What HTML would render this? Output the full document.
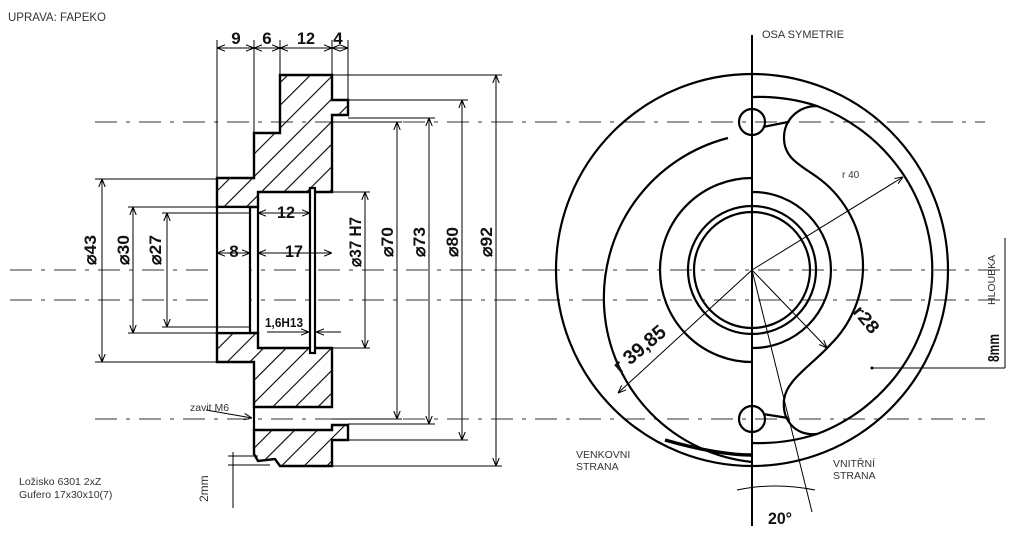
<!DOCTYPE html>
<html><head><meta charset="utf-8"><style>
html,body{margin:0;padding:0;background:#fff;width:1024px;height:534px;overflow:hidden}
svg{display:block}
text{font-family:"Liberation Sans",sans-serif}
.c{font-family:"Liberation Sans",sans-serif;font-weight:bold}
</style></head><body>
<svg width="1024" height="534" viewBox="0 0 1024 534" xmlns="http://www.w3.org/2000/svg">
<defs>
<pattern id="h" patternUnits="userSpaceOnUse" width="16" height="16" patternTransform="rotate(45)">
<line x1="0" y1="0" x2="0" y2="16" stroke="#000" stroke-width="2.2"/>
</pattern>
<marker id="a" viewBox="0 0 10 10" refX="10" refY="5" markerWidth="8" markerHeight="8" orient="auto-start-reverse" markerUnits="userSpaceOnUse"><path d="M0,1 L10,5 L0,9" fill="none" stroke="#000" stroke-width="1.3"/></marker>
</defs>
<g stroke="#333" stroke-width="1.1" stroke-dasharray="22,9,4,9" fill="none">
<line x1="95" y1="122" x2="985" y2="122"/>
<line x1="10" y1="270" x2="1000" y2="270"/>
<line x1="10" y1="300" x2="1000" y2="300"/>
<line x1="95" y1="419" x2="985" y2="419"/>
</g>
<text x="8" y="21" font-size="11.5" fill="#333">UPRAVA: FAPEKO</text>

<g stroke="#000" stroke-width="2.4" fill="url(#h)" stroke-linejoin="miter">
<path d="M280,75 L332,75 L332,100 L348,100 L348,115 L332,115 L332,192 L258,192 L258,207 L217,207 L217,178 L254,178 L254,133 L280,133 Z"/>
<path d="M217,333 L258,333 L258,348 L332,348 L332,407 L254,407 L254,362 L217,362 Z"/>
<path d="M254,430 L332,430 L332,425 L348,425 L348,440 L332,440 L332,466 L280,466 L275,459 L258,461 L254,454 Z"/>
</g>
<g stroke="#000" stroke-width="2.2" fill="#fff">
<rect x="217" y="207" width="33" height="126"/>
<rect x="310" y="188" width="5" height="165"/>
</g>
<g stroke="#000" stroke-width="2.2" fill="none">
<line x1="254" y1="407" x2="254" y2="430"/>
<line x1="258" y1="207" x2="258" y2="333"/>
</g>
<g stroke="#000" stroke-width="1" fill="none">
<line x1="217" y1="40" x2="217" y2="178"/>
<line x1="254" y1="40" x2="254" y2="133"/>
<line x1="280" y1="40" x2="280" y2="75"/>
<line x1="332" y1="40" x2="332" y2="75"/>
<line x1="348" y1="40" x2="348" y2="100"/>
<line x1="217" y1="48" x2="254" y2="48" marker-start="url(#a)" marker-end="url(#a)"/>
<line x1="254" y1="48" x2="280" y2="48" marker-start="url(#a)" marker-end="url(#a)"/>
<line x1="280" y1="48" x2="332" y2="48" marker-start="url(#a)" marker-end="url(#a)"/>
<line x1="332" y1="48" x2="348" y2="48" marker-start="url(#a)" marker-end="url(#a)"/>
<line x1="95" y1="179" x2="217" y2="179"/><line x1="95" y1="362" x2="217" y2="362"/>
<line x1="128" y1="207" x2="217" y2="207"/><line x1="128" y1="333" x2="217" y2="333"/>
<line x1="162" y1="213" x2="250" y2="213"/><line x1="162" y1="327" x2="250" y2="327"/>
<line x1="102" y1="179" x2="102" y2="362" marker-start="url(#a)" marker-end="url(#a)"/>
<line x1="133" y1="207" x2="133" y2="333" marker-start="url(#a)" marker-end="url(#a)"/>
<line x1="167" y1="213" x2="167" y2="327" marker-start="url(#a)" marker-end="url(#a)"/>
<line x1="258" y1="213" x2="310" y2="213" marker-start="url(#a)" marker-end="url(#a)"/>
<line x1="217" y1="253" x2="250" y2="253" marker-start="url(#a)" marker-end="url(#a)"/>
<line x1="258" y1="253" x2="332" y2="253" marker-start="url(#a)" marker-end="url(#a)"/>
<line x1="267" y1="332" x2="309" y2="332" marker-end="url(#a)"/>
<line x1="341" y1="332" x2="316" y2="332" marker-end="url(#a)"/>
<line x1="315" y1="192" x2="370" y2="192"/><line x1="315" y1="348" x2="370" y2="348"/>
<line x1="332" y1="122" x2="402" y2="122"/><line x1="332" y1="419" x2="402" y2="419"/>
<line x1="348" y1="118" x2="435" y2="118"/><line x1="348" y1="424" x2="435" y2="424"/>
<line x1="348" y1="100" x2="468" y2="100"/><line x1="348" y1="440" x2="468" y2="440"/>
<line x1="332" y1="75" x2="502" y2="75"/><line x1="332" y1="466" x2="502" y2="466"/>
<line x1="365" y1="192" x2="365" y2="348" marker-start="url(#a)" marker-end="url(#a)"/>
<line x1="397" y1="122" x2="397" y2="419" marker-start="url(#a)" marker-end="url(#a)"/>
<line x1="429" y1="118" x2="429" y2="424" marker-start="url(#a)" marker-end="url(#a)"/>
<line x1="462" y1="100" x2="462" y2="440" marker-start="url(#a)" marker-end="url(#a)"/>
<line x1="496" y1="75" x2="496" y2="466" marker-start="url(#a)" marker-end="url(#a)"/>
<line x1="206" y1="410" x2="252" y2="418" marker-end="url(#a)"/>
<line x1="233" y1="452" x2="233" y2="508"/>
<line x1="228" y1="456" x2="258" y2="456"/><line x1="228" y1="465" x2="270" y2="465"/>
</g>
<g class="c" font-size="17" fill="#111" text-anchor="middle">
<text x="236" y="44">9</text><text x="267" y="44">6</text><text x="306" y="44" textLength="18" lengthAdjust="spacingAndGlyphs">12</text><text x="338" y="44">4</text>
<text x="286" y="218" textLength="18" lengthAdjust="spacingAndGlyphs">12</text><text x="234" y="257">8</text><text x="294" y="257" textLength="18" lengthAdjust="spacingAndGlyphs">17</text>
<text x="284" y="327" font-size="13" textLength="38" lengthAdjust="spacingAndGlyphs">1,6H13</text>
<text transform="translate(96,250) rotate(-90)" textLength="30" lengthAdjust="spacingAndGlyphs">⌀43</text>
<text transform="translate(129,250) rotate(-90)" textLength="30" lengthAdjust="spacingAndGlyphs">⌀30</text>
<text transform="translate(161,250) rotate(-90)" textLength="30" lengthAdjust="spacingAndGlyphs">⌀27</text>
<text transform="translate(361,242) rotate(-90)" textLength="50" lengthAdjust="spacingAndGlyphs">⌀37 H7</text>
<text transform="translate(393,242) rotate(-90)" textLength="30" lengthAdjust="spacingAndGlyphs">⌀70</text>
<text transform="translate(425,242) rotate(-90)" textLength="30" lengthAdjust="spacingAndGlyphs">⌀73</text>
<text transform="translate(458,242) rotate(-90)" textLength="30" lengthAdjust="spacingAndGlyphs">⌀80</text>
<text transform="translate(492,242) rotate(-90)" textLength="30" lengthAdjust="spacingAndGlyphs">⌀92</text>
</g>
<text x="190" y="411" font-size="10.5" fill="#333">zavit M6</text>
<text transform="translate(208,502) rotate(-90)" font-size="12" fill="#333">2mm</text>
<text x="19" y="485" font-size="10.5" fill="#333">Ložisko 6301 2xZ</text>
<text x="19" y="498" font-size="10.5" fill="#333">Gufero  17x30x10(7)</text>

<g stroke="#000" stroke-width="2.2" fill="none">
<circle cx="752" cy="270" r="196"/>
<circle cx="752" cy="270" r="64"/>
<circle cx="752" cy="270" r="58"/>
<path d="M728,138 A165,165 0 0 0 752,462"/>
<path d="M752,178 A92,92 0 0 0 752,362"/>
<path d="M753,192 A78,78 0 0 1 753,348"/>
<path d="M753,97 A181,174 0 0 1 817,106"/>
<path d="M817,434 A181,174 0 0 1 753,443"/>
<circle cx="752" cy="122" r="13"/>
<circle cx="752" cy="419" r="13"/>
<path d="M763,127 L788,122"/><path d="M763,414 L788,418"/>
<path d="M817,106 A181,176 0 0 1 817,434 C795,436 782,420 784,400 C786,380 812,365 830,345 A110,110 0 0 0 817,177 C800,165 784,158 784,138 C784,118 800,106 817,106 Z"/>
<path d="M665,440 C700,450 730,455 752,455" stroke-width="3.5"/>
</g>
<line x1="752" y1="35" x2="752" y2="526" stroke="#000" stroke-width="2"/>
<g stroke="#000" stroke-width="1" fill="none">
<line x1="752" y1="270" x2="903" y2="177" marker-end="url(#a)"/>
<line x1="752" y1="270" x2="827" y2="348" marker-end="url(#a)"/>
<line x1="752" y1="270" x2="618" y2="393" marker-end="url(#a)"/>
<line x1="752" y1="270" x2="812" y2="512"/>
<path d="M737,490 Q775,482 815,490"/>
<line x1="1005" y1="238" x2="1005" y2="368"/>
<line x1="872" y1="368" x2="1005" y2="368"/>
</g>
<circle cx="872" cy="368" r="1.5" fill="#000"/>
<text x="762" y="38" font-size="11" fill="#333">OSA SYMETRIE</text>
<text x="842" y="178" font-size="10" fill="#333">r 40</text>
<text class="c" transform="translate(852,312) rotate(50)" font-size="18" fill="#111" textLength="30" lengthAdjust="spacingAndGlyphs">r28</text>
<text class="c" transform="translate(620,374) rotate(-40)" font-size="20" fill="#111" textLength="62" lengthAdjust="spacingAndGlyphs">r 39,85</text>
<text class="c" x="768" y="524" font-size="17" fill="#111" textLength="24" lengthAdjust="spacingAndGlyphs">20°</text>
<text transform="translate(995,305) rotate(-90)" font-size="10.5" fill="#333">HLOUBKA</text>
<text class="c" transform="translate(999,362) rotate(-90)" font-size="16" fill="#111" textLength="28" lengthAdjust="spacingAndGlyphs">8mm</text>
<text x="576" y="458" font-size="10.5" fill="#333">VENKOVNI</text>
<text x="576" y="470" font-size="10.5" fill="#333">STRANA</text>
<text x="833" y="467" font-size="10.5" fill="#333">VNITŘNÍ</text>
<text x="833" y="479" font-size="10.5" fill="#333">STRANA</text>
</svg>
</body></html>
